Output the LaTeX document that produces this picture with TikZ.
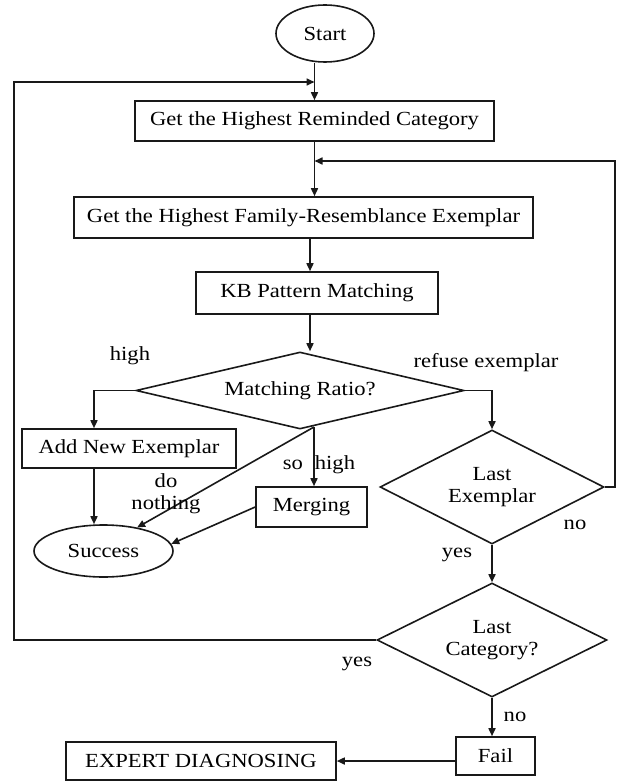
\documentclass[tikz,border=0pt]{standalone}
\usepackage{fontspec}
\setmainfont{Liberation Serif}[FakeStretch=1.13]
\usetikzlibrary{shapes.geometric,arrows.meta,calc}

\begin{document}
\begin{tikzpicture}[x=1pt,y=-1pt,
  every node/.style={font=\fontsize{20}{22}\selectfont, text=black},
  line/.style={draw=black!90, line width=1.6pt},
  arr/.style={line, -{Triangle[length=8pt,width=7pt]}},
  proc/.style={rectangle, draw=black!90, line width=1.6pt, inner sep=0pt},
  term/.style={ellipse, draw=black!90, line width=1.6pt, inner sep=0pt},
  dec/.style={diamond, draw=black!90, line width=1.6pt, inner sep=0pt, aspect=2, align=center},
  lbl/.style={inner sep=0pt}
]
\useasboundingbox (0,0) rectangle (616,781);

% process steps
\node[term, minimum width=98pt, minimum height=57pt] (start) at (325,33.5) {Start};
\node[proc, minimum width=359pt, minimum height=40pt] (cat) at (314.5,121) {Get the Highest Reminded Category};
\node[proc, minimum width=459pt, minimum height=41pt] (exm) at (303.5,217.5) {Get the Highest Family-Resemblance Exemplar};
\node[proc, minimum width=242pt, minimum height=42pt] (kb) at (317,293) {KB Pattern Matching};
\node[dec, aspect=4, minimum width=328pt, minimum height=77pt] (mr) at (300,390.5) {Matching Ratio?};
\node[proc, minimum width=214pt, minimum height=39pt] (add) at (129,448.5) {Add New Exemplar};
\node[proc, minimum width=111pt, minimum height=40pt] (mrg) at (311.5,507) {Merging};
\node[term, minimum width=139pt, minimum height=52pt] (succ) at (103.5,551) {Success};
\node[dec, minimum width=224pt, minimum height=114pt] (le) at (492,487) {Last\\Exemplar};
\node[dec, minimum width=230pt, minimum height=114pt] (lc) at (492,640) {Last\\Category?};
\node[proc, minimum width=79pt, minimum height=38pt] (fail) at (495.5,756) {Fail};
\node[proc, minimum width=270pt, minimum height=38pt] (exp) at (201,761) {EXPERT DIAGNOSING};

% junctions and routing columns
\coordinate (jt) at (314.5,82);
\coordinate (jr) at (314.5,161);
\coordinate (lx) at (14,82);
\coordinate (rx) at (615,161);
\coordinate (ax) at (310,0);
\coordinate (axl) at (94,0);
\coordinate (br) at (314,427);

% main flow
\draw[arr] (start.south -| cat.north) -- (cat.north);
\draw[arr] (cat.south) -- (cat.south |- exm.north);
\draw[arr] (ax |- exm.south) -- (ax |- kb.north);
\draw[arr] (ax |- kb.south) -- (ax |- mr.north);
\draw[arr] (mr.west) -| (axl |- add.north);
\draw[arr] (axl |- add.south) -- (axl |- succ.north);
\draw[arr] (br) -- (br |- mrg.north);
\draw[arr] (br) -- (succ.35);
\draw[arr] (mrg.west) -- (succ.6);
\draw[arr] (mr.east) -| (le.north);
\draw[arr] (le.south) -- (lc.north);
\draw[arr] (lc.south) -- (lc.south |- fail.north);
\draw[arr] (fail.west |- exp.east) -- (exp.east);

% loops back
\draw[arr] (lc.west) -| (lx) -- (jt);
\draw[arr] (le.east) -| (rx) -- (jr);

% branch labels
\node[lbl] (l1) at (130,356) {high};
\node[lbl] (l2) at (486,363) {refuse exemplar};
\node[lbl, align=center] (l3) at (166,494) {do\\nothing};
\node[lbl] (l4) at (293,465) {so};
\node[lbl] (l5) at (335,465) {high};
\node[lbl] (l6) at (575,525) {no};
\node[lbl] (l7) at (457,555) {yes};
\node[lbl] (l8) at (357,664) {yes};
\node[lbl] (l9) at (515,717) {no};
\end{tikzpicture}
\end{document}
